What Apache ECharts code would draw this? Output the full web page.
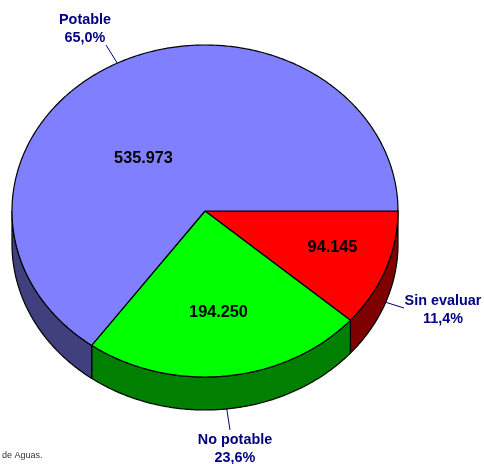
<!DOCTYPE html>
<html>
<head>
<meta charset="utf-8">
<title>Calidad de aguas</title>
<script src="https://cdn.jsdelivr.net/npm/echarts@6/dist/echarts.min.js"></script>
<style>
    html, body { margin: 0; padding: 0; background: #fff; }
    #chartContainer { width: 484px; height: 464px; }
</style>
</head>
<body>
<div id="chartContainer"></div>
<script>
// Slices in drawing order, clockwise from 3 o'clock
const categories = ['Sin evaluar', 'No potable', 'Potable'];
const values = [94145, 194250, 535973];
const valueLabels = ['94.145', '194.250', '535.973'];
const percentLabels = ['11,4%', '23,6%', '65,0%'];
const footnote = 'de Aguas.';

const topColors = ['#ff0000', '#00ff00', '#8080ff'];
const sideColors = ['#7f0000', '#007f00', '#40407f'];
const labelColor = '#000080';

// Pie geometry
const cx = 205, cy = 211, rx = 193, ry = 166, depth = 33;

// Where the texts go, relative to the pie centre (value) or absolute (name + percent)
const valueOffsets = [[127.5, 37], [13.5, 102], [-61.5, -52]];
const outerLabelPos = [[443, 301], [235, 440], [85, 20]];
const leaderEnds = [[404, 308], [230, 430], [106, 45]];

const total = values.reduce((acc, v) => acc + v, 0);

function rimPoint(t, dy) {
    return [cx + rx * Math.cos(t), cy + ry * Math.sin(t) + (dy || 0)];
}

function arcPoints(from, to, dy) {
    const pts = [];
    const steps = Math.max(2, Math.ceil(Math.abs(to - from) / 0.01));
    for (let i = 0; i <= steps; i++) {
        pts.push(rimPoint(from + (to - from) * i / steps, dy));
    }
    return pts;
}

function sliceAngles(index) {
    let start = 0;
    for (let i = 0; i < index; i++) start += values[i] / total * Math.PI * 2;
    return [start, start + values[index] / total * Math.PI * 2];
}

function renderSlice(params, api) {
    const i = params.dataIndex;
    const share = api.value(0) / total;
    const [start] = sliceAngles(i);
    const end = start + share * Math.PI * 2;
    const mid = (start + end) / 2;
    const children = [];
    const edge = { stroke: '#000', lineWidth: 1.2, lineJoin: 'round' };

    // Side wall, only for the part of the rim facing the viewer
    const sideEnd = Math.min(end, Math.PI);
    if (start < Math.PI) {
        const wall = arcPoints(start, sideEnd, 0).concat(arcPoints(sideEnd, start, depth));
        children.push({
            type: 'polygon',
            shape: { points: wall },
            style: { fill: sideColors[i], ...edge }
        });
    }

    // Top face
    children.push({
        type: 'polygon',
        shape: { points: [[cx, cy]].concat(arcPoints(start, end, 0)) },
        style: { fill: topColors[i], ...edge }
    });

    // Leader line from the rim to the outer label
    const facing = Math.sin(mid) > 0;
    const from = rimPoint(mid, facing ? depth : 0);
    children.push({
        type: 'line',
        shape: { x1: from[0], y1: from[1], x2: leaderEnds[i][0], y2: leaderEnds[i][1] },
        style: { stroke: labelColor, lineWidth: 1 }
    });

    // Value on the slice
    children.push({
        type: 'text',
        x: cx + valueOffsets[i][0],
        y: cy + valueOffsets[i][1],
        style: {
            text: valueLabels[i],
            fill: '#000',
            font: 'bold 16.3px "Liberation Sans", Arial, sans-serif',
            align: 'center',
            verticalAlign: 'middle'
        }
    });

    // Category name + share outside the pie
    children.push({
        type: 'text',
        x: outerLabelPos[i][0],
        y: outerLabelPos[i][1] - 9,
        style: {
            text: categories[i] + '\n' + percentLabels[i],
            fill: labelColor,
            font: 'bold 14.4px "Liberation Sans", Arial, sans-serif',
            lineHeight: 18,
            align: 'center',
            verticalAlign: 'top'
        }
    });

    return { type: 'group', children: children };
}

let chartDom = document.getElementById('chartContainer');
let myChart = echarts.init(chartDom);

let option = {
    animation: false,
    backgroundColor: '#fff',
    graphic: {
        elements: [{
            type: 'text',
            left: 2,
            top: 451,
            style: {
                text: footnote,
                fill: '#333',
                font: '9px "Liberation Sans", Arial, sans-serif'
            }
        }]
    },
    series: [{
        type: 'custom',
        coordinateSystem: 'none',
        renderItem: renderSlice,
        data: values.map((v, i) => ({ name: categories[i], value: [v] }))
    }]
};

myChart.setOption(option);
</script>
</body>
</html>
